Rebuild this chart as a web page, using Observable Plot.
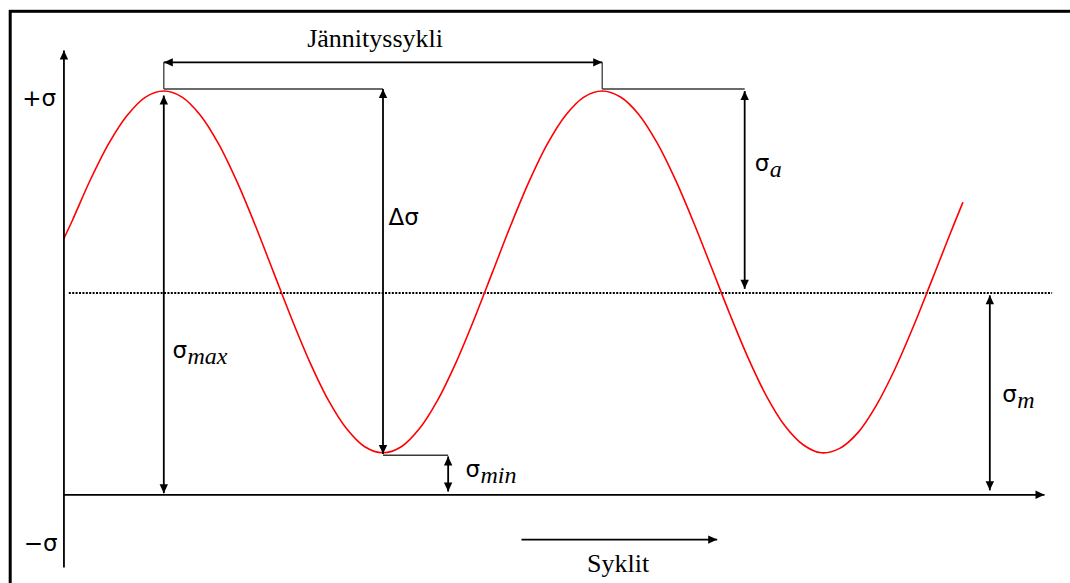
<!DOCTYPE html>
<html>
<head>
<meta charset="utf-8">
<script src="https://cdn.jsdelivr.net/npm/d3@7"></script>
<script src="https://cdn.jsdelivr.net/npm/@observablehq/plot@0.6"></script>
<style>
  html, body { margin: 0; padding: 0; background: #fff; }
  #chart { width: 1070px; height: 583px; overflow: hidden; }
</style>
</head>
<body>
<div id="chart"></div>
<script>
// Stress cycle: phase in degrees, stress relative to σmax = 100
const phase = [8, 15, 30, 45, 60, 75, 90, 105, 120, 135, 150, 165, 180, 195, 210, 225, 240, 255, 270,
  285, 300, 315, 330, 345, 360, 375, 390, 405, 420, 435, 450, 465, 480, 495, 510, 525, 540, 555, 570,
  585, 600, 615, 630, 645, 660, 675, 690, 705, 720, 735, 746];
const stress = [63.5, 68.0, 78.2, 87.1, 94.0, 98.5, 100, 98.5, 94.0, 86.9, 77.6, 66.8, 55.2, 43.6, 32.8,
  23.5, 16.4, 11.9, 10.4, 11.9, 16.4, 23.5, 32.8, 43.6, 55.2, 66.8, 77.6, 86.9, 94.0, 98.5, 100,
  98.5, 94.2, 87.2, 78.1, 67.5, 56.1, 44.6, 33.8, 24.4, 17.1, 12.4, 10.4, 11.5, 15.4, 22.1, 30.9,
  41.3, 52.6, 64.1, 72.3];

// Levels
const sigmaPeakGuide = 100.5;   // peak reference level
const sigmaTroughGuide = 9.8;   // trough reference level
const sigmaMean = 50;           // dotted mean-stress line
const cycleArrowLevel = 107.1;  // level of the stress-cycle arrow

// Dotted mean line extent (phase)
const meanFrom = 12, meanTo = 819.5;

// Thin guide lines: [x1, y1, x2, y2]
const guides = [
  [90, sigmaPeakGuide, 270, sigmaPeakGuide],
  [450, sigmaPeakGuide, 567, sigmaPeakGuide],
  [90, sigmaPeakGuide, 90, cycleArrowLevel],
  [450, sigmaPeakGuide, 450, cycleArrowLevel],
  [270, sigmaTroughGuide, 323.5, sigmaTroughGuide]
];

// Arrows: [x1, y1, x2, y2, head at start, head at end]
const arrowList = [
  [8, -18, 8, 110, false, true],            // stress axis
  [8, 0, 813.2, 0, false, true],            // cycles axis
  [90, cycleArrowLevel, 450, cycleArrowLevel, true, true], // one stress cycle
  [90, 0.4, 90, 98.9, true, true],          // σmax
  [270, 10.1, 270, 100.5, true, true],      // Δσ
  [567, 51.0, 567, 100, true, true],        // σa
  [768.3, 1.1, 768.3, 49.4, true, true],    // σm
  [323.5, 0.8, 323.5, 9.5, true, true],     // σmin
  [383.7, -11.1, 544.4, -11.1, false, true] // direction of cycles
];

// Plain labels
const titleText = ["Jännityssykli", "Syklit"];
const titleX = [263.5, 463.0];
const titleY = [111.0, -19.2];

const axisText = ["+σ", "−σ"];
const axisX = [1.5, 2.7];
const axisY = [96.4, -13.8];

const deltaText = ["Δσ"];
const deltaX = [274.6];
const deltaY = [66.9];

// σ labels with italic subscripts
const subText = ["max", "a", "m", "min"];
const subX = [97.1, 575.2, 778.6, 337.7];
const subY = [34.0, 80.3, 22.9, 4.3];

// ---- tables built from the arrays above ----
const curve = phase.map((p, i) => ({phase: p, stress: stress[i]}));
const guideRows = guides.map(([x1, y1, x2, y2]) => ({x1, y1, x2, y2}));
const shaftRows = arrowList.map(([x1, y1, x2, y2]) => ({x1, y1, x2, y2}));

function direction(fx, fy, tx, ty) {
  if (tx > fx) return "right";
  if (tx < fx) return "left";
  return ty > fy ? "up" : "down";
}
const heads = [];
for (const [x1, y1, x2, y2, s, e] of arrowList) {
  if (e) heads.push({x: x2, y: y2, dir: direction(x1, y1, x2, y2)});
  if (s) heads.push({x: x1, y: y1, dir: direction(x2, y2, x1, y1)});
}

// Filled triangular arrowheads with the tip at the anchor point
function headSymbol(dir) {
  return {
    draw(context, size) {
      const r = Math.sqrt(size / Math.PI);
      const L = 3 * r, W = 1.4 * r;
      context.moveTo(0, 0);
      if (dir === "up") { context.lineTo(-W, L); context.lineTo(W, L); }
      else if (dir === "down") { context.lineTo(-W, -L); context.lineTo(W, -L); }
      else if (dir === "right") { context.lineTo(-L, -W); context.lineTo(-L, W); }
      else { context.lineTo(L, -W); context.lineTo(L, W); }
      context.closePath();
    }
  };
}

const titles = titleText.map((t, i) => ({t, x: titleX[i], y: titleY[i]}));
const axisLabels = axisText.map((t, i) => ({t, x: axisX[i], y: axisY[i]}));
const deltaLabels = deltaText.map((t, i) => ({t, x: deltaX[i], y: deltaY[i]}));
const subLabels = subText.map((t, i) => ({t, x: subX[i], y: subY[i]}));

const sans = "DejaVu Sans";
const serif = "Liberation Serif";

const chart = Plot.plot({
  width: 1070,
  height: 583,
  marginLeft: 9.7,
  marginTop: 10.8,
  marginRight: -20,
  marginBottom: -20,
  x: {domain: [0, 360], range: [53.7, 492.1], axis: null},
  y: {domain: [0, 100], range: [494.3, 90.5], axis: null},
  style: {background: "white"},
  marks: [
    Plot.frame({stroke: "black", strokeWidth: 3}),
    Plot.link([{y: sigmaMean, x1: meanFrom, x2: meanTo}], {
      x1: "x1", x2: "x2", y1: "y", y2: "y",
      stroke: "black", strokeWidth: 2, strokeDasharray: "2,1.4"
    }),
    Plot.line(curve, {x: "phase", y: "stress", stroke: "#ff0000", strokeWidth: 1.6, curve: "catmull-rom"}),
    Plot.link(guideRows, {x1: "x1", y1: "y1", x2: "x2", y2: "y2", stroke: "#3a3a3a", strokeWidth: 1.3}),
    Plot.link(shaftRows, {x1: "x1", y1: "y1", x2: "x2", y2: "y2", stroke: "black", strokeWidth: 1.8}),
    ...["up", "down", "left", "right"].map(dir =>
      Plot.dot(heads.filter(h => h.dir === dir), {
        x: "x", y: "y", r: 3, symbol: headSymbol(dir), fill: "black", stroke: "none"
      })
    ),
    Plot.text(titles, {x: "x", y: "y", text: "t", textAnchor: "middle", lineAnchor: "bottom",
      fontFamily: serif, fontSize: 26, fill: "black"}),
    Plot.text(axisLabels, {x: "x", y: "y", text: "t", textAnchor: "end", lineAnchor: "bottom",
      fontFamily: sans, fontSize: 23, fill: "black"}),
    Plot.text(deltaLabels, {x: "x", y: "y", text: "t", textAnchor: "start", lineAnchor: "bottom",
      fontFamily: sans, fontSize: 23, fill: "black"}),
    Plot.text(subLabels, {x: "x", y: "y", text: () => "σ", textAnchor: "start", lineAnchor: "bottom",
      fontFamily: sans, fontSize: 23, fill: "black"}),
    Plot.text(subLabels, {x: "x", y: "y", text: "t", textAnchor: "start", lineAnchor: "bottom",
      dx: 15, dy: 6, fontFamily: serif, fontStyle: "italic", fontSize: 24, fill: "black"})
  ]
});

document.getElementById("chart").appendChild(chart);
</script>
</body>
</html>
